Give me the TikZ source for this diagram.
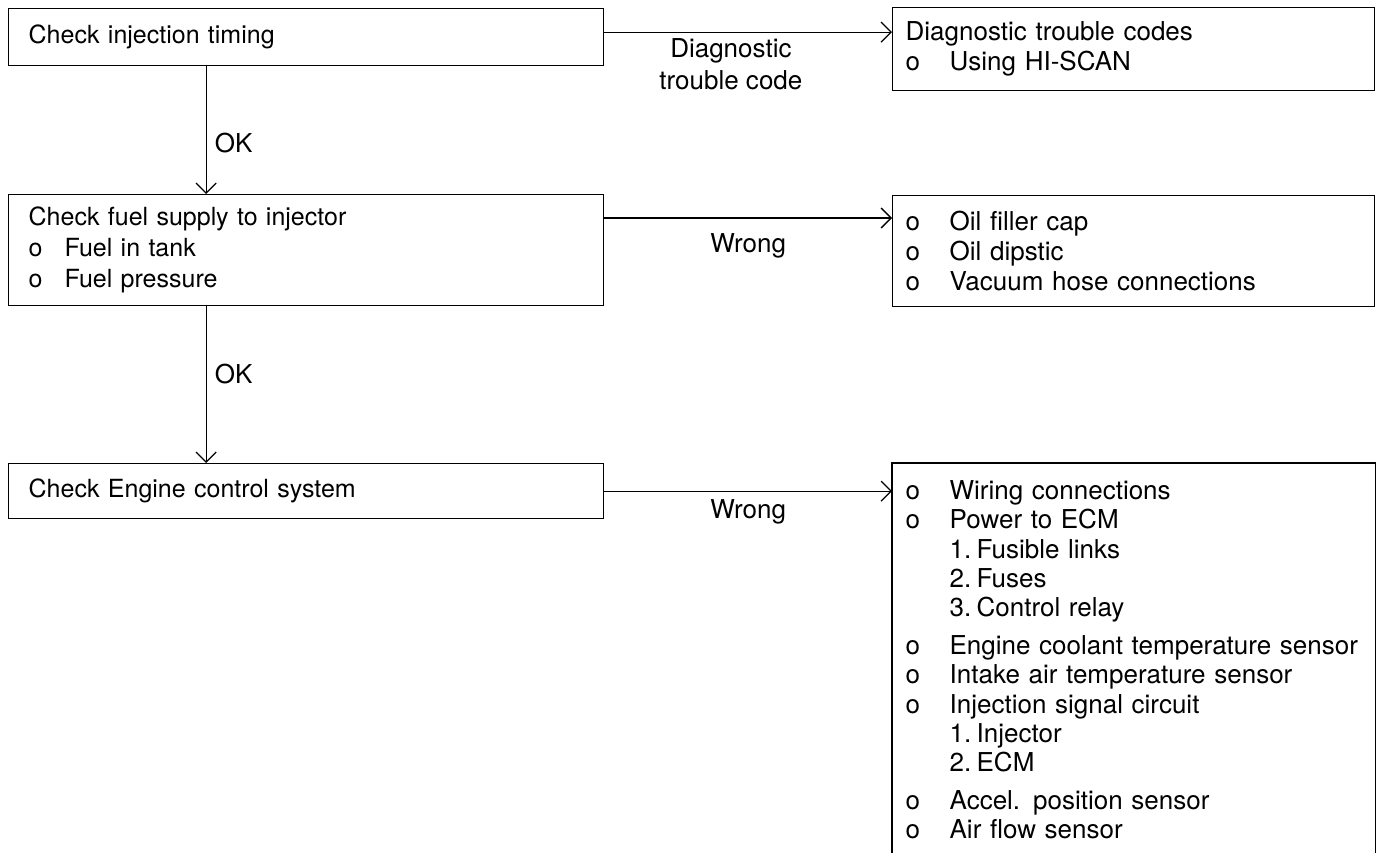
\documentclass[tikz,border=0pt]{standalone}
\usepackage{fontspec}
\setmainfont{TeX Gyre Heros}
\usetikzlibrary{arrows.meta,positioning,calc}
\newcommand{\itm}[1]{\makebox[22pt][l]{o}#1}
\newcommand{\litm}[1]{\makebox[18pt][l]{o}#1}
\newcommand{\subitm}[2]{\hspace*{22pt}\makebox[13.5pt][l]{#1}#2}

\begin{document}
\begin{tikzpicture}[x=0.5pt,y=-0.5pt,line width=0.65pt,
  font=\fontsize{13}{15}\selectfont,
  stepbox/.style={draw,anchor=north west,text width=277.5pt,inner xsep=10pt,align=left,
    font=\fontsize{12.5}{15.5}\selectfont},
  listbox/.style={draw,anchor=north west,text width=228pt,inner xsep=6.5pt,align=left},
  flow/.style={-{Straight Barb[length=5pt,width=10pt]}},
  tag/.style={inner sep=2pt,align=center}]
  \useasboundingbox (0,0) rectangle (1382,853);
  \coordinate (bottom) at (0,853);
  % left column: checks
  \node[stepbox,minimum height=28.5pt] (timing) at (8,8) {Check injection timing};
  \node[stepbox,minimum height=55.5pt] (fuel) at (8,194) {Check fuel supply to injector\\
    \litm{Fuel in tank}\\ \litm{Fuel pressure}};
  \node[stepbox,minimum height=27.5pt] (ecs) at (8,463) {Check Engine control system};
  % right column: what to look at
  \node[listbox,minimum height=41.5pt] (diag) at (892,7) {Diagnostic trouble codes\\ \itm{Using HI-SCAN}};
  \node[listbox,minimum height=55.5pt] (oil) at (892,195) {\itm{Oil filler cap}\\
    \itm{Oil dipstic}\\ \itm{Vacuum hose connections}};
  \node[draw=none,anchor=north west,text width=228pt,inner xsep=6.5pt,inner ysep=8.5pt,align=left,
    font=\fontsize{13}{14.6}\selectfont] (checks) at (892,463) {\itm{Wiring connections}\\
    \itm{Power to ECM}\\ \subitm{1.}{Fusible links}\\ \subitm{2.}{Fuses}\\
    \subitm{3.}{Control relay}\\[4.5pt]
    \itm{Engine coolant temperature sensor}\\ \itm{Intake air temperature sensor}\\
    \itm{Injection signal circuit}\\ \subitm{1.}{Injector}\\ \subitm{2.}{ECM}\\[4.5pt]
    \itm{Accel. position sensor}\\ \itm{Air flow sensor}};
  % open box, runs off the page
  \draw (checks.north west |- bottom) -- (checks.north west) -- (checks.north east) -- (checks.north east |- bottom);
  % connectors
  \draw[flow] ([yshift=2.5pt]timing.east) coordinate (d1) -- (d1 -| diag.west)
    node[pos=0.44,below=1pt,tag,font=\fontsize{13}{16}\selectfont] {Diagnostic\\trouble code};
  \draw[flow] ([yshift=-12pt]fuel.north east) coordinate (f1) -- (f1 -| oil.west)
    node[midway,below=5.5pt,tag] {Wrong};
  \draw[flow] (ecs.east) -- (ecs.east -| checks.west)
    node[midway,below=2pt,tag] {Wrong};
  \draw[flow] ([xshift=-50pt]timing.south) coordinate (t1) -- (t1 |- fuel.north)
    node[pos=0.6,right=2pt,tag] {OK};
  \draw[flow] ([xshift=-50pt]fuel.south) coordinate (t2) -- (t2 |- ecs.north)
    node[pos=0.43,right=2pt,tag] {OK};
\end{tikzpicture}
\end{document}
